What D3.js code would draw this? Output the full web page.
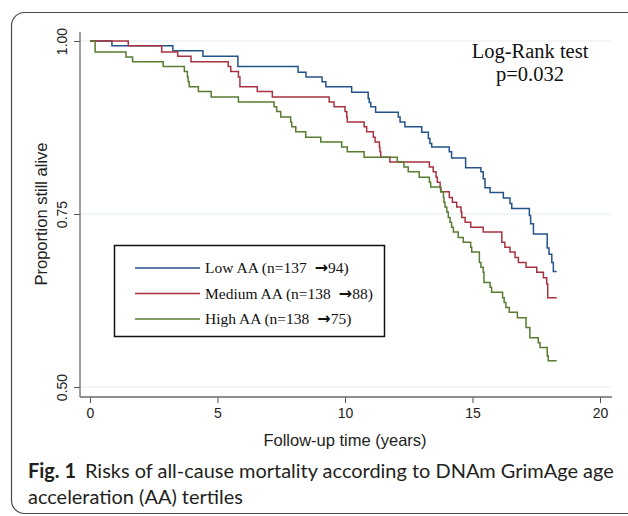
<!DOCTYPE html>
<html>
<head>
<meta charset="utf-8">
<script src="https://cdn.jsdelivr.net/npm/d3@7"></script>
<style>
  html, body { margin: 0; padding: 0; background: #fff; }
  svg { display: block; }
</style>
</head>
<body>
<svg id="chart" width="628" height="516"></svg>
<script>
// ---- Data ----
const seriesLabels = ["Low AA (n=137 ", "Medium AA (n=138 ", "High AA (n=138 "];
const seriesEnds = ["94)", "88)", "75)"];
const seriesColors = ["#24538a", "#a8323f", "#587c30"];

const lowTime = [0, 0.86, 3.25, 4.43, 5.80, 8.16, 8.47, 9.10, 9.25, 10.26, 10.91, 10.95, 11.01, 11.20, 12.09, 12.16, 12.35, 13.01, 13.27, 13.33, 13.40, 14.09, 14.18, 14.73, 15.33, 15.42, 15.49, 15.69, 16.21, 16.47, 16.54, 17.23, 17.28, 17.39, 17.93, 18.00, 18.11, 18.17, 18.30];
const lowSurv = [1.000, 0.993, 0.986, 0.978, 0.963, 0.955, 0.948, 0.941, 0.934, 0.926, 0.917, 0.911, 0.905, 0.897, 0.890, 0.883, 0.876, 0.868, 0.859, 0.852, 0.847, 0.840, 0.831, 0.817, 0.811, 0.801, 0.788, 0.781, 0.773, 0.765, 0.758, 0.748, 0.736, 0.721, 0.701, 0.692, 0.680, 0.667, 0.667];

const medTime = [0, 1.50, 2.81, 3.44, 3.96, 5.42, 5.52, 5.82, 5.88, 6.56, 7.15, 9.38, 9.57, 10.00, 10.07, 10.09, 10.75, 10.85, 11.11, 11.18, 11.35, 11.37, 11.40, 11.76, 13.31, 13.46, 13.57, 13.62, 13.73, 13.76, 14.09, 14.21, 14.38, 14.55, 14.58, 14.71, 14.93, 15.42, 16.15, 16.27, 16.47, 16.67, 16.80, 17.10, 17.52, 17.78, 17.91, 17.95, 18.30];
const medSurv = [1.000, 0.993, 0.984, 0.978, 0.970, 0.963, 0.956, 0.948, 0.934, 0.927, 0.919, 0.912, 0.905, 0.898, 0.890, 0.883, 0.876, 0.869, 0.861, 0.854, 0.847, 0.840, 0.832, 0.825, 0.818, 0.811, 0.803, 0.796, 0.788, 0.782, 0.774, 0.767, 0.760, 0.753, 0.745, 0.738, 0.731, 0.724, 0.709, 0.702, 0.695, 0.687, 0.680, 0.673, 0.666, 0.658, 0.649, 0.629, 0.629];

const highTime = [0, 0.20, 1.41, 1.67, 2.87, 3.70, 3.82, 3.85, 3.89, 4.25, 4.75, 5.82, 7.22, 7.32, 7.48, 7.87, 7.91, 8.07, 8.46, 9.05, 9.87, 10.09, 10.75, 12.05, 12.31, 12.48, 12.91, 13.31, 13.36, 13.75, 13.86, 13.88, 13.92, 13.99, 14.05, 14.12, 14.18, 14.25, 14.44, 14.64, 14.93, 14.97, 15.27, 15.33, 15.42, 15.45, 15.69, 15.75, 16.18, 16.24, 16.31, 16.44, 16.76, 17.10, 17.25, 17.58, 17.65, 17.93, 17.97, 18.30];
const highSurv = [1.000, 0.984, 0.977, 0.970, 0.963, 0.956, 0.948, 0.941, 0.934, 0.927, 0.919, 0.912, 0.905, 0.898, 0.890, 0.883, 0.876, 0.869, 0.861, 0.854, 0.847, 0.840, 0.832, 0.825, 0.818, 0.811, 0.803, 0.796, 0.789, 0.782, 0.774, 0.767, 0.760, 0.753, 0.745, 0.738, 0.731, 0.724, 0.716, 0.709, 0.702, 0.695, 0.680, 0.673, 0.666, 0.651, 0.644, 0.637, 0.629, 0.622, 0.615, 0.608, 0.600, 0.586, 0.571, 0.564, 0.557, 0.545, 0.538, 0.538];

const xTicks = [0, 5, 10, 15, 20];
const yTicks = [0.50, 0.75, 1.00];
const yTickLabels = ["0.50", "0.75", "1.00"];

const xTitle = "Follow-up time (years)";
const yTitle = "Proportion still alive";
const testLines = ["Log-Rank test", "p=0.032"];
const captionBold = "Fig. 1";
const captionLine1 = "Risks of all-cause mortality according to DNAm GrimAge age";
const captionLine2 = "acceleration (AA) tertiles";

// ---- Drawing ----
const svg = d3.select("#chart");
const sans = "'Liberation Sans', Arial, sans-serif";
const serif = "'Liberation Serif', 'Times New Roman', serif";

// Outer rounded frame
svg.append("rect")
  .attr("x", 11.5).attr("y", 12.5)
  .attr("width", 660).attr("height", 501)
  .attr("rx", 13).attr("ry", 13)
  .attr("fill", "none").attr("stroke", "#4a4a4a").attr("stroke-width", 1.2);

const x = d3.scaleLinear().domain([0, 20]).range([90, 600]);
const y = d3.scaleLinear().domain([0.5, 1.0]).range([387, 41]);

const axisX = 80, axisY = 397;

// Grid lines
svg.append("g").selectAll("line").data(yTicks).join("line")
  .attr("x1", axisX).attr("x2", 611)
  .attr("y1", d => y(d)).attr("y2", d => y(d))
  .attr("stroke", "#e3ecf0").attr("stroke-width", 1);

// Y axis
const yAxis = d3.axisLeft(y).tickValues(yTicks).tickSize(6).tickPadding(4)
  .tickFormat((d, i) => yTickLabels[i]);
const gy = svg.append("g").attr("transform", `translate(${axisX},0)`).call(yAxis);
gy.select(".domain").remove();
gy.append("line").attr("x1", 0).attr("x2", 0).attr("y1", 32).attr("y2", axisY)
  .attr("stroke", "#6a6a6a").attr("stroke-width", 1.3);
gy.selectAll(".tick line").attr("stroke", "#555").attr("stroke-width", 1);
gy.selectAll(".tick text")
  .attr("font-family", sans)
  .attr("font-size", 14).attr("fill", "#222")
  .attr("text-anchor", "middle")
  .attr("transform", "translate(-18,0) rotate(-90)")
  .attr("x", 0).attr("dy", "0.35em").attr("y", 0);

// X axis
const xAxis = d3.axisBottom(x).tickValues(xTicks).tickSize(6).tickPadding(5).tickFormat(d3.format("d"));
const gx = svg.append("g").attr("transform", `translate(0,${axisY})`).call(xAxis);
gx.select(".domain").remove();
gx.append("line").attr("x1", axisX).attr("x2", 612).attr("y1", 0).attr("y2", 0)
  .attr("stroke", "#6a6a6a").attr("stroke-width", 1.3);
gx.selectAll(".tick line").attr("stroke", "#555").attr("stroke-width", 1);
gx.selectAll(".tick text")
  .attr("font-family", sans)
  .attr("font-size", 14).attr("fill", "#222");

// Axis titles
svg.append("text")
  .attr("x", 345).attr("y", 446)
  .attr("text-anchor", "middle")
  .attr("font-family", sans)
  .attr("font-size", 16.5).attr("fill", "#222")
  .text(xTitle);
svg.append("text")
  .attr("transform", `translate(47,214) rotate(-90)`)
  .attr("text-anchor", "middle")
  .attr("font-family", sans)
  .attr("font-size", 16.5).attr("fill", "#222")
  .text(yTitle);

// Survival curves
const series = [
  { t: lowTime, s: lowSurv },
  { t: medTime, s: medSurv },
  { t: highTime, s: highSurv }
];
const line = d3.line().x(d => x(d[0])).y(d => y(d[1])).curve(d3.curveStepAfter);
series.forEach((sr, i) => {
  const pts = sr.t.map((t, j) => [t, sr.s[j]]);
  svg.append("path")
    .datum(pts)
    .attr("d", line)
    .attr("fill", "none")
    .attr("stroke", seriesColors[i])
    .attr("stroke-width", 1.5)
    .attr("stroke-linejoin", "miter");
});

// Legend
const lg = svg.append("g");
lg.append("rect")
  .attr("x", 114.5).attr("y", 245.5).attr("width", 270).attr("height", 91)
  .attr("fill", "#fff").attr("stroke", "#111").attr("stroke-width", 1.5);
seriesLabels.forEach((name, i) => {
  const ly = 268 + i * 25.5;
  lg.append("line").attr("x1", 135).attr("x2", 200).attr("y1", ly).attr("y2", ly)
    .attr("stroke", seriesColors[i]).attr("stroke-width", 1.5);
  const t = lg.append("text").attr("x", 205).attr("y", ly + 5)
    .attr("font-family", serif)
    .attr("font-size", 15.5).attr("fill", "#111");
  t.append("tspan").text(name);
  t.append("tspan").attr("dx", 4).attr("font-family", "'DejaVu Sans', sans-serif")
    .attr("font-size", 16).attr("font-weight", "bold").text("\u2192");
  t.append("tspan").text(seriesEnds[i]);
});

// Log-rank annotation
testLines.forEach((t, i) => {
  svg.append("text")
    .attr("x", 530).attr("y", 58 + i * 23)
    .attr("text-anchor", "middle")
    .attr("font-family", serif)
    .attr("font-size", 20.5).attr("fill", "#111")
    .text(t);
});

// Caption (humanist sans; scaled horizontally to reference width)
const capFont = "Lato, 'Open Sans', sans-serif";
const capSize = 20;
const cap1 = svg.append("text")
  .attr("font-family", capFont).attr("font-size", capSize).attr("fill", "#231f20");
cap1.append("tspan").attr("font-weight", "bold").text(captionBold);
cap1.append("tspan").attr("dx", 9).text(captionLine1);
const cap2 = svg.append("text")
  .attr("font-family", capFont).attr("font-size", capSize).attr("fill", "#231f20")
  .text(captionLine2);
const w1 = cap1.node().getComputedTextLength();
const sx = 577 / w1;
cap1.attr("transform", `translate(28,478) scale(${sx},1)`);
cap2.attr("transform", `translate(28,504) scale(${sx},1)`);
</script>
</body>
</html>
